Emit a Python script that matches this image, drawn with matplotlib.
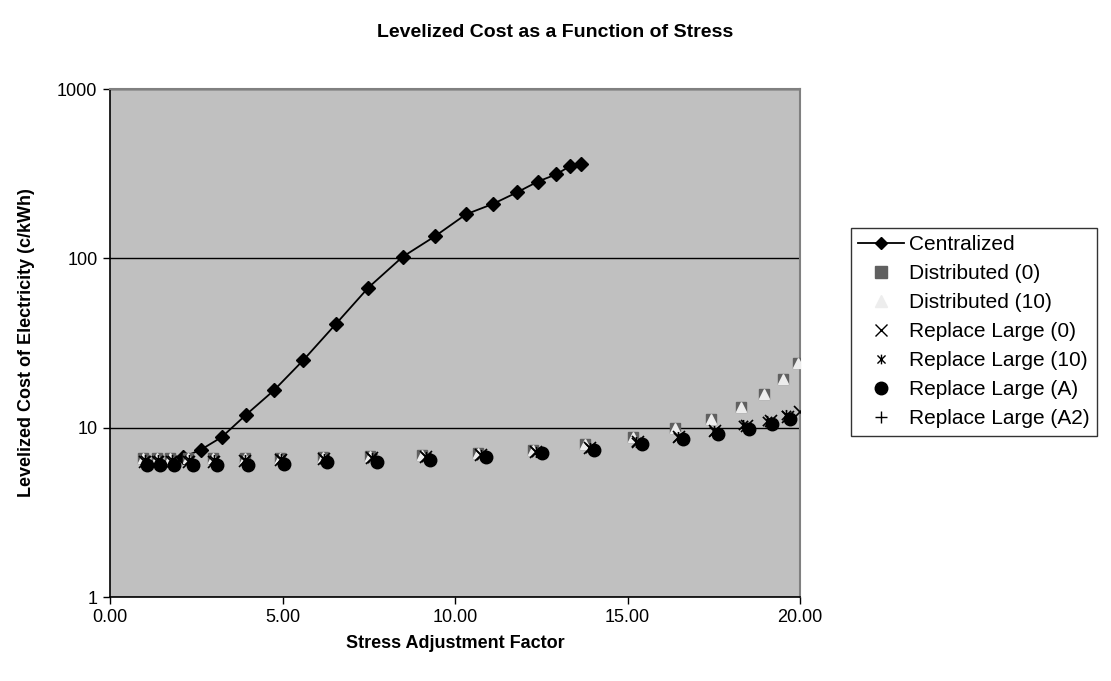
import matplotlib
matplotlib.use("Agg")
import matplotlib.pyplot as plt
from matplotlib.path import Path
from matplotlib.lines import Line2D
from matplotlib.ticker import FixedLocator, FormatStrFormatter, FuncFormatter

plt.rcParams['font.family'] = ['Liberation Sans', 'DejaVu Sans']

# levelized cost (c/kWh) vs stress adjustment factor
central_x = [2.12, 2.63, 3.24, 3.94, 4.75, 5.60, 6.54, 7.49, 8.48, 9.42,
             10.32, 11.11, 11.81, 12.40, 12.93, 13.33, 13.65]
central_y = [6.7, 7.4, 8.8, 11.9, 16.6, 25.0, 40.8, 67.2, 102, 135,
             182, 210, 246, 284, 313, 350, 362]

dist_x = [0.97, 1.35, 1.74, 2.27, 2.99, 3.91, 4.93, 6.17, 7.54, 9.03,
          10.68, 12.25, 13.77, 15.17, 16.38, 17.41, 18.28, 18.96, 19.52, 19.93]
dist0_y = [6.6, 6.6, 6.6, 6.6, 6.6, 6.6, 6.63, 6.73, 6.82, 6.88,
           7.05, 7.43, 8.0, 8.75, 9.89, 11.2, 13.3, 15.8, 19.4, 24.1]
dist10_y = [6.6, 6.6, 6.6, 6.6, 6.6, 6.6, 6.63, 6.73, 6.82, 6.88,
            7.05, 7.43, 8.0, 8.75, 9.89, 11.2, 13.3, 15.8, 19.4, 24.1]

rl0_x = [1.0, 1.4, 1.8, 2.3, 3.0, 3.9, 4.95, 6.2, 7.6, 9.15,
         10.75, 12.35, 13.9, 15.3, 16.5, 17.55, 18.45, 19.15, 19.65, 20.0]
rl0_y = [6.3, 6.3, 6.3, 6.3, 6.3, 6.35, 6.4, 6.5, 6.6, 6.7,
         6.9, 7.2, 7.6, 8.2, 8.8, 9.5, 10.2, 11.0, 11.6, 12.4]

rl10_x = [1.0, 1.4, 1.8, 2.3, 3.0, 3.9, 4.95, 6.2, 7.6, 9.15,
          10.75, 12.35, 13.9, 15.25, 16.45, 17.5, 18.35, 19.05, 19.6]
rl10_y = [6.4, 6.4, 6.4, 6.4, 6.4, 6.45, 6.5, 6.55, 6.6, 6.7,
          6.9, 7.2, 7.6, 8.2, 8.8, 9.6, 10.3, 11.0, 11.8]

rla_x = [1.06, 1.45, 1.86, 2.41, 3.09, 4.01, 5.05, 6.30, 7.73, 9.28,
         10.90, 12.51, 14.03, 15.41, 16.62, 17.63, 18.52, 19.20, 19.71]
rla_y = [6.0, 6.0, 6.0, 6.0, 6.02, 6.05, 6.07, 6.23, 6.28, 6.43,
         6.67, 7.05, 7.37, 8.0, 8.52, 9.15, 9.76, 10.5, 11.2]
rla2_y = [6.0, 6.0, 6.0, 6.0, 6.02, 6.05, 6.07, 6.23, 6.28, 6.43,
          6.67, 7.05, 7.37, 8.0, 8.52, 9.15, 9.76, 10.5, 11.2]

x_ticks = [0, 5, 10, 15, 20]
y_ticks = [1, 10, 100, 1000]

# excel-style star: an x with a vertical bar through it
star = Path([(-1, -1), (1, 1), (-1, 1), (1, -1), (0, -1.2), (0, 1.2)],
            [Path.MOVETO, Path.LINETO, Path.MOVETO, Path.LINETO, Path.MOVETO, Path.LINETO])

fig = plt.figure(figsize=(11.11, 6.81), dpi=100)
ax = fig.add_axes([110 / 1111, 84 / 681, 690 / 1111, 508 / 681])
ax.set_facecolor('#C0C0C0')

ax.plot(central_x, central_y, color='black', lw=1.3, marker='D', ms=7,
        mfc='black', mec='black', zorder=3)
ax.plot(dist_x, dist0_y, ls='none', marker='s', ms=7.5, mfc='#606060', mec='#606060', zorder=4)
ax.plot(dist_x, dist10_y, ls='none', marker='^', ms=7, mfc='#EDEDED', mec='#EDEDED', zorder=5)
ax.plot(rl0_x, rl0_y, ls='none', marker='x', ms=8, mec='black', mew=1.2, zorder=6)
ax.plot(rl10_x, rl10_y, ls='none', marker=star, ms=8, mec='black', mfc='none', mew=1.2, zorder=7)
ax.plot(rla_x, rla_y, ls='none', marker='o', ms=9, mfc='black', mec='black', zorder=8)
ax.plot(rla_x, rla2_y, ls='none', marker='+', ms=8, mec='black', mew=1.2, zorder=9)

ax.set_yscale('log')
ax.set_ylim(1, 1000)
ax.set_xlim(0, 20)
ax.yaxis.set_major_locator(FixedLocator(y_ticks))
ax.yaxis.set_minor_locator(FixedLocator([]))
ax.yaxis.set_major_formatter(FuncFormatter(lambda v, p: f'{v:g}'))
ax.xaxis.set_major_locator(FixedLocator(x_ticks))
ax.xaxis.set_major_formatter(FormatStrFormatter('%.2f'))
ax.grid(axis='y', which='major', color='black', lw=1.0)
ax.set_axisbelow(True)
ax.tick_params(direction='out', length=5, width=1, labelsize=13, pad=4)

for side in ['top', 'right']:
    ax.spines[side].set_color('#808080')
    ax.spines[side].set_linewidth(1.5)
for side in ['left', 'bottom']:
    ax.spines[side].set_color('black')
    ax.spines[side].set_linewidth(1.2)

ax.set_xlabel('Stress Adjustment Factor', fontsize=13, fontweight='bold', labelpad=6)
ax.set_ylabel('Levelized Cost of Electricity (c/kWh)', fontsize=13, fontweight='bold', labelpad=16)
fig.suptitle('Levelized Cost as a Function of Stress', fontsize=14, fontweight='bold', y=0.965)

handles = [
    Line2D([], [], color='black', lw=1.3, marker='D', ms=6, mfc='black'),
    Line2D([], [], ls='none', marker='s', ms=8, mfc='#606060', mec='#606060'),
    Line2D([], [], ls='none', marker='^', ms=8, mfc='#EDEDED', mec='#EDEDED'),
    Line2D([], [], ls='none', marker='x', ms=8, mec='black', mew=1.0),
    Line2D([], [], ls='none', marker=star, ms=7, mec='black', mew=1.0),
    Line2D([], [], ls='none', marker='o', ms=9, mfc='black', mec='black'),
    Line2D([], [], ls='none', marker='+', ms=9, mec='black', mew=1.0),
]
labels = ['Centralized', 'Distributed (0)', 'Distributed (10)', 'Replace Large (0)',
          'Replace Large (10)', 'Replace Large (A)', 'Replace Large (A2)']
leg = fig.legend(handles, labels, loc='upper left', bbox_to_anchor=(851 / 1111, 1 - 228 / 681),
                 fontsize=15, frameon=True, fancybox=False, edgecolor='black',
                 handlelength=2.2, handletextpad=0.25, labelspacing=0.48, borderpad=0.35,
                 borderaxespad=0)
leg.get_frame().set_linewidth(1.0)

fig.savefig('out.png', dpi=100, facecolor='white')
